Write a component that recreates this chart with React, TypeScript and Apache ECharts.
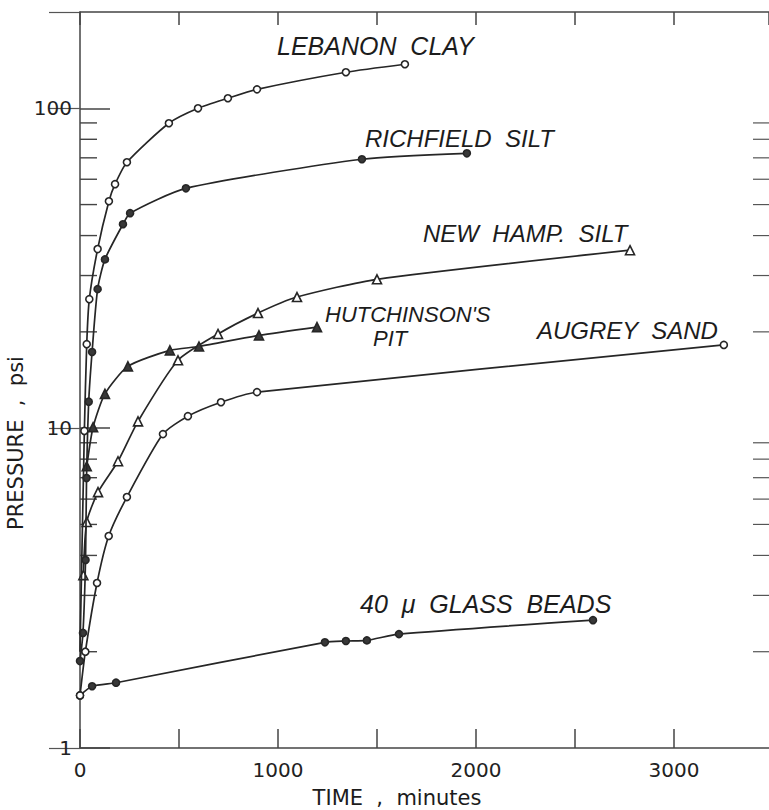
import React, { useEffect, useRef } from 'react';
import * as echarts from 'echarts';

// Axis ticks
const xLabelValues = [0, 1000, 2000, 3000];
const yLabelValues = [1, 10, 100];
const minorTickValues = [2, 3, 4, 5, 6, 7, 8, 9, 20, 30, 40, 50, 60, 70, 80, 90];

// Series data: time (minutes) and pressure (psi)
const lebanonTime = [0, 22, 34, 47, 89, 146, 177, 237, 449, 596, 747, 894, 1343, 1641];
const lebanonP = [2.0, 9.8, 18.3, 25.3, 36.3, 51.2, 57.9, 67.8, 89.8, 100, 107.5, 114.6, 129.6, 137.3];
const lebanonMarked = [false, true, true, true, true, true, true, true, true, true, true, true, true, true];

const richfieldTime = [0, 15, 28, 33, 44, 61, 89, 126, 217, 253, 535, 1424, 1954];
const richfieldP = [1.87, 2.29, 3.87, 6.98, 12.1, 17.3, 27.2, 33.7, 43.4, 47.0, 56.2, 69.3, 72.3];

const newHampTime = [17, 34, 91, 192, 293, 495, 697, 899, 1096, 1500, 2778];
const newHampP = [3.47, 5.09, 6.31, 7.88, 10.5, 16.3, 19.7, 22.9, 25.7, 29.2, 36.0];

const hutchTime = [34, 66, 126, 242, 454, 601, 904, 1197];
const hutchP = [7.6, 10.07, 12.8, 15.6, 17.5, 18.0, 19.5, 20.7];

const augreyTime = [0, 27, 86, 145, 237, 419, 545, 712, 894, 3252];
const augreyP = [1.46, 2.0, 3.28, 4.6, 6.09, 9.58, 10.9, 12.05, 12.96, 18.2];

const glassTime = [0, 61, 182, 1237, 1343, 1449, 1611, 2591];
const glassP = [1.46, 1.56, 1.6, 2.14, 2.16, 2.17, 2.27, 2.51];

const INK = '#262626';
const X_MAX = 3480;

function zip(t: number[], p: number[], marked?: boolean[]) {
  return t.map((v, i) =>
    marked && !marked[i] ? { value: [v, p[i]], symbol: 'none' } : [v, p[i]]
  );
}

function lineSeries(
  name: string,
  t: number[],
  p: number[],
  symbol: string,
  filled: boolean,
  size: number,
  z: number,
  marked?: boolean[]
) {
  return {
    name,
    type: 'line',
    data: zip(t, p, marked),
    smooth: 0.22,
    symbol,
    symbolSize: size,
    showAllSymbol: true,
    z,
    lineStyle: { color: INK, width: 1.7 },
    itemStyle: { color: filled ? '#383838' : '#ffffff', borderColor: INK, borderWidth: 1.6 },
    emphasis: { disabled: true },
  };
}

const labelFont = '"Liberation Sans", "DejaVu Sans", sans-serif';

function label(text: string, x: number, y: number, size = 24) {
  return {
    type: 'text',
    x,
    y,
    silent: true,
    style: {
      text,
      fill: '#1c1c1c',
      fontSize: size,
      fontStyle: 'italic',
      fontFamily: labelFont,
      align: 'left',
      verticalAlign: 'middle',
    },
  };
}

export default function App() {
  const ref = useRef<HTMLDivElement>(null);
  useEffect(() => {
    if (!ref.current) return;
    const chart = echarts.init(ref.current, null, { renderer: 'svg' });
    const axisFont = { fontFamily: '"DejaVu Sans", sans-serif', fontSize: 20, color: '#222' };
    chart.setOption({
      animation: false,
      backgroundColor: '#ffffff',
      grid: { left: 80, top: 12, right: 0, bottom: 62, containLabel: false },
      xAxis: [
        {
          type: 'value',
          min: 0,
          max: X_MAX,
          interval: 500,
          axisLine: { show: true, lineStyle: { color: '#444', width: 1.5 } },
          axisTick: { show: true, inside: true, length: 19, lineStyle: { color: '#444', width: 1.5 } },
          axisLabel: {
            ...axisFont,
            margin: 12,
            showMaxLabel: false,
            formatter: (v: number) => (xLabelValues.includes(v) ? String(v) : ''),
          },
          splitLine: { show: false },
        },
        {
          type: 'value',
          position: 'top',
          min: 0,
          max: X_MAX,
          interval: 500,
          axisLine: { show: true, lineStyle: { color: '#444', width: 1.5 } },
          axisTick: { show: true, inside: true, length: 13, lineStyle: { color: '#444', width: 1.5 } },
          axisLabel: { show: false },
          splitLine: { show: false },
        },
      ],
      yAxis: [
        {
          type: 'log',
          logBase: 10,
          min: 1,
          max: 200,
          axisLine: { show: true, lineStyle: { color: '#444', width: 1.5 } },
          axisTick: { show: true, inside: true, length: 30, lineStyle: { color: '#444', width: 1.5 } },
          axisLabel: {
            ...axisFont,
            margin: 8,
            showMaxLabel: false,
            formatter: (v: number) => {
              const r = Math.round(v);
              return yLabelValues.includes(r) && Math.abs(v - r) < 1e-6 ? String(r) : '';
            },
          },
          splitLine: { show: false },
        },
        {
          type: 'log',
          logBase: 10,
          position: 'right',
          min: 1,
          max: 200,
          axisLine: { show: false },
          axisTick: { show: true, inside: true, length: 31, lineStyle: { color: '#555', width: 1.2 } },
          axisLabel: { show: false },
          splitLine: { show: false },
        },
      ],
      series: [
        {
          type: 'custom',
          silent: true,
          z: 1,
          clip: false,
          data: minorTickValues.map((v) => [0, v]),
          renderItem: (params: any, api: any) => {
            const v = api.value(1);
            const l = api.coord([0, v]);
            const r = api.coord([X_MAX, v]);
            return {
              type: 'group',
              children: [
                { type: 'line', shape: { x1: l[0], y1: l[1], x2: l[0] + 17, y2: l[1] }, style: { stroke: '#444', lineWidth: 1.4 } },
                { type: 'line', shape: { x1: r[0] - 16, y1: r[1], x2: r[0], y2: r[1] }, style: { stroke: '#555', lineWidth: 1.2 } },
              ],
            };
          },
        },
        lineSeries('40 μ Glass Beads', glassTime, glassP, 'circle', true, 7, 3),
        lineSeries('Augrey Sand', augreyTime, augreyP, 'circle', false, 7, 4),
        lineSeries('New Hamp. Silt', newHampTime, newHampP, 'triangle', false, 9, 5),
        lineSeries("Hutchinson's Pit", hutchTime, hutchP, 'triangle', true, 9, 6),
        lineSeries('Richfield Silt', richfieldTime, richfieldP, 'circle', true, 7, 7),
        lineSeries('Lebanon Clay', lebanonTime, lebanonP, 'circle', false, 7, 8, lebanonMarked),
      ],
      graphic: [
        label('LEBANON  CLAY', 277, 46, 25),
        label('RICHFIELD  SILT', 365, 138),
        label('NEW  HAMP.  SILT', 423, 233),
        label("HUTCHINSON'S", 325, 314, 22),
        label('PIT', 373, 338, 22),
        label('AUGREY  SAND', 537, 330),
        label('40  μ  GLASS  BEADS', 360, 604, 25),
        {
          type: 'text',
          x: 397,
          y: 798,
          silent: true,
          style: {
            text: 'TIME  ,  minutes',
            fill: '#1c1c1c',
            fontSize: 21,
            fontFamily: '"DejaVu Sans", sans-serif',
            align: 'center',
            verticalAlign: 'middle',
          },
        },
        {
          type: 'text',
          x: 16,
          y: 443,
          rotation: Math.PI / 2,
          silent: true,
          style: {
            text: 'PRESSURE  ,  psi',
            fill: '#1c1c1c',
            fontSize: 21,
            fontFamily: '"DejaVu Sans", sans-serif',
            align: 'center',
            verticalAlign: 'middle',
          },
        },
      ],
    });
    return () => chart.dispose();
  }, []);
  return (
    <div
      ref={ref}
      style={{ position: 'absolute', left: 0, top: 0, width: 769, height: 810, background: '#fff' }}
    />
  );
}
